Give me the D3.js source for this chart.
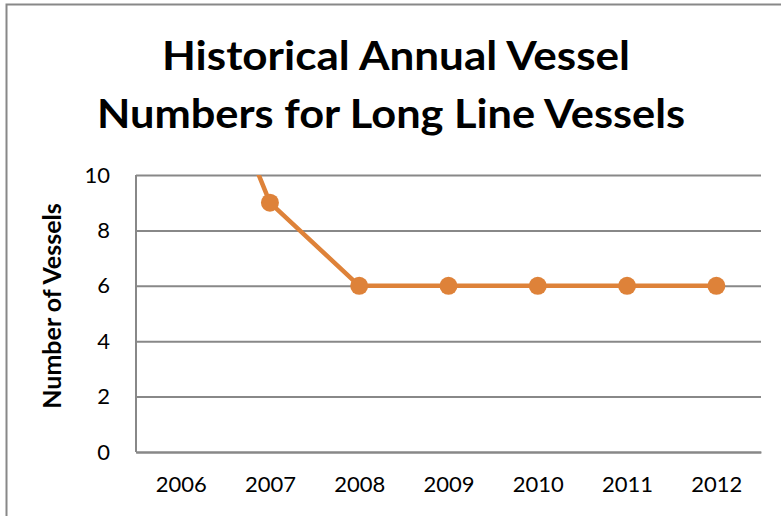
<!DOCTYPE html>
<html><head><meta charset="utf-8">
<script src="https://cdn.jsdelivr.net/npm/d3@7"></script>
<style>body{margin:0;background:#fff}svg{display:block}</style>
</head><body>
<script>
const years = ["2006","2007","2008","2009","2010","2011","2012"];
const vessels = [17, 9, 6, 6, 6, 6, 6];
const yTicks = [0, 2, 4, 6, 8, 10];
const titleLines = ["Historical Annual Vessel", "Numbers for Long Line Vessels"];
const yTitle = "Number of Vessels";

const W = 781, H = 516;
const font = "Lato, 'Open Sans', sans-serif";
const svg = d3.select("body").append("svg").attr("width", W).attr("height", H);

svg.append("rect").attr("x", 6.5).attr("y", 4.5).attr("width", 900).attr("height", 700)
  .attr("fill", "none").attr("stroke", "#888").attr("stroke-width", 2);

const plot = {l: 136, r: 761, t: 175, b: 452};
const x = d3.scalePoint().domain(years).range([plot.l, plot.r]).padding(0.5);
const y = d3.scaleLinear().domain([0, 10]).range([plot.b, plot.t]);

const ya = svg.append("g").attr("transform", `translate(${plot.l},0)`)
  .call(d3.axisLeft(y).tickValues(yTicks).tickSize(-(plot.r - plot.l)).tickPadding(26));
ya.select(".domain").remove();
ya.selectAll(".tick line").attr("stroke", "#888").attr("stroke-width", 2);
ya.selectAll(".tick text").attr("font-family", font).attr("font-size", 22).attr("fill", "#000");

svg.append("line").attr("x1", plot.l).attr("x2", plot.l).attr("y1", plot.t).attr("y2", plot.b)
  .attr("stroke", "#888").attr("stroke-width", 2);

const xa = svg.append("g").attr("transform", `translate(0,${plot.b})`)
  .call(d3.axisBottom(x).tickSize(0).tickPadding(24));
xa.select(".domain").attr("stroke", "#888").attr("stroke-width", 2);
xa.selectAll(".tick text").attr("font-family", font).attr("font-size", 22).attr("fill", "#000");

svg.append("clipPath").attr("id", "pc").append("rect")
  .attr("x", plot.l).attr("y", plot.t).attr("width", plot.r - plot.l).attr("height", plot.b - plot.t);

const data = years.map((d, i) => ({year: d, v: vessels[i]}));
const g = svg.append("g").attr("clip-path", "url(#pc)");
const color = "#DE8239";
g.append("path").datum(data)
  .attr("d", d3.line().x(d => x(d.year)).y(d => y(d.v)))
  .attr("fill", "none").attr("stroke", color).attr("stroke-width", 4.5).attr("stroke-linejoin", "round");
g.selectAll("circle").data(data).join("circle")
  .attr("cx", d => x(d.year)).attr("cy", d => y(d.v)).attr("r", 9).attr("fill", color);

const tPos = [{x: 162, y: 70, w: 468}, {x: 97, y: 128, w: 588}];
svg.append("g").selectAll("text").data(titleLines).join("text")
  .attr("font-family", font).attr("font-weight", "bold").attr("font-size", 40)
  .attr("x", (d, i) => tPos[i].x).attr("y", (d, i) => tPos[i].y)
  .attr("textLength", (d, i) => tPos[i].w).attr("lengthAdjust", "spacingAndGlyphs")
  .text(d => d);

svg.append("text").attr("font-family", font).attr("font-weight", "bold").attr("font-size", 25)
  .attr("text-anchor", "middle").attr("transform", "translate(61,306) rotate(-90)").text(yTitle);
</script>
</body></html>
